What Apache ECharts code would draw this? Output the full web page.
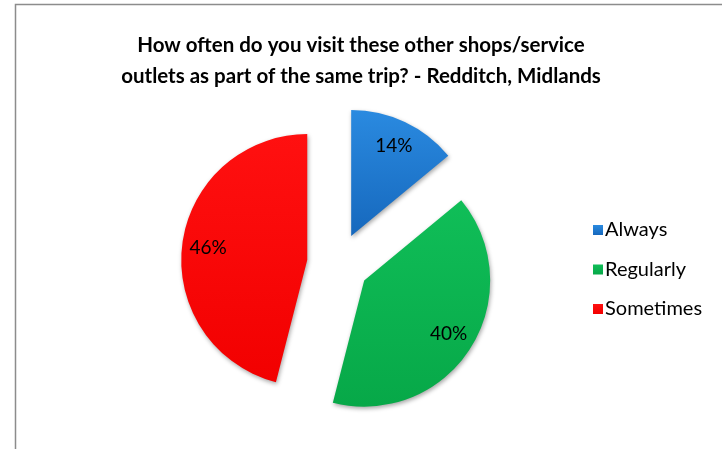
<!DOCTYPE html>
<html>
<head>
<meta charset="utf-8">
<script src="https://cdn.jsdelivr.net/npm/echarts@6/dist/echarts.min.js"></script>
<style>
  html, body { margin: 0; padding: 0; background: #fff; }
  #chart { width: 722px; height: 449px; }
</style>
</head>
<body>
<div id="chart"></div>
<script>
// Visit frequency shares (percent)
const categories = ['Always', 'Regularly', 'Sometimes'];
const shares = [14, 40, 46];
const sliceColors = [
  ['#2a8ae0', '#1668bd'],
  ['#10be58', '#07a848'],
  ['#ff1010', '#f20000']
];

const titleText = 'How often do you visit these other shops/service\noutlets as part of the same trip? - Redditch, Midlands';

const font = 'Lato, "Noto Sans", sans-serif';
const center = [338, 264];
const radius = 126;
const explode = 31;

function sliceStyle(i) {
  return {
    color: {
      type: 'linear', x: 0, y: 0, x2: 0, y2: 1,
      colorStops: [
        { offset: 0, color: sliceColors[i][0] },
        { offset: 1, color: sliceColors[i][1] }
      ]
    },
    shadowColor: 'rgba(0,0,0,0.35)',
    shadowBlur: 4,
    shadowOffsetX: 1,
    shadowOffsetY: 2
  };
}

const pieData = categories.map((name, i) => ({
  name,
  value: shares[i],
  selected: true,
  itemStyle: sliceStyle(i)
}));

// Transparent ring that only carries the percentage labels further out
const labelData = categories.map((name, i) => ({
  name,
  value: shares[i],
  selected: true,
  itemStyle: { color: 'rgba(0,0,0,0)' }
}));

const chart = echarts.init(document.getElementById('chart'), null, { renderer: 'canvas' });

chart.setOption({
  backgroundColor: '#ffffff',
  animation: false,
  title: {
    text: titleText,
    left: 'center',
    top: 25,
    textStyle: {
      fontFamily: font,
      fontWeight: 'bold',
      fontSize: 20.5,
      lineHeight: 31,
      color: '#000'
    }
  },
  legend: {
    orient: 'vertical',
    left: 588,
    top: 215,
    itemWidth: 10,
    itemHeight: 10,
    itemGap: 19.5,
    icon: 'rect',
    selectedMode: false,
    data: categories,
    textStyle: { fontFamily: font, fontSize: 20, color: '#000', padding: [0, 0, 0, -3] }
  },
  graphic: [{
    type: 'rect',
    shape: { x: 15.5, y: 4.5, width: 720, height: 460 },
    style: { fill: 'none', stroke: '#8c8c8c', lineWidth: 1.5 },
    silent: true,
    z: -1
  }],
  series: [
    {
      type: 'pie',
      center,
      radius: [0, radius],
      startAngle: 90,
      clockwise: true,
      selectedMode: 'multiple',
      selectedOffset: explode,
      avoidLabelOverlap: false,
      label: { show: false },
      labelLine: { show: false },
      emphasis: { disabled: true },
      data: pieData
    },
    {
      type: 'pie',
      center,
      radius: [radius * 0.54, radius],
      startAngle: 90,
      clockwise: true,
      selectedMode: 'multiple',
      selectedOffset: explode,
      silent: true,
      avoidLabelOverlap: false,
      label: {
        show: true,
        position: 'inside',
        formatter: '{c}%',
        fontFamily: font,
        fontSize: 19,
        color: '#000'
      },
      labelLine: { show: false },
      emphasis: { disabled: true },
      data: labelData
    }
  ]
});
</script>
</body>
</html>
